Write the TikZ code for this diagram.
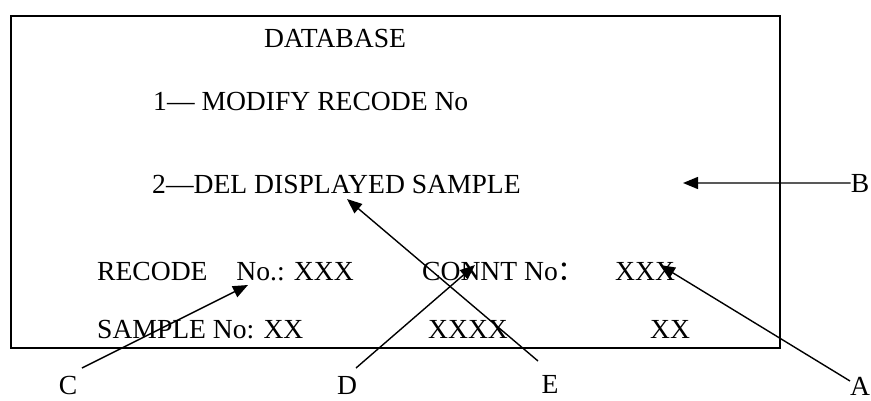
\documentclass[tikz,border=0pt]{standalone}
\usepackage{fontspec}
\setmainfont{Liberation Serif}
\newfontfamily\cjk{Noto Sans CJK SC}
\usetikzlibrary{arrows.meta}

\tikzset{
  screen/.style={draw, line width=1.8pt, anchor=north west, inner sep=0pt},
  txt/.style={anchor=base west, inner sep=0pt, font=\fontsize{27.6}{32}\selectfont},
  lbl/.style={anchor=base, inner sep=0pt, font=\fontsize{27.6}{32}\selectfont},
  ptr/.style={line width=1.4pt, -{Triangle[length=15pt,width=12pt]}}
}

\begin{document}
\begin{tikzpicture}[x=1pt,y=-1pt]
            \useasboundingbox (0,0) rectangle (871,400);
            % Tela do menu
            \node at (10,15) (frame) [screen, minimum width=769pt, minimum height=332pt] {};
            \node at (335,47) (title) [lbl] {DATABASE};
            \node at (153,110) (opt1) [txt] {1— MODIFY RECODE No};
            \node at (152,193) (opt2) [txt] {2—DEL DISPLAYED SAMPLE};
            \node at (97,280) (recno) [txt] {RECODE\hspace{22pt} No.: XXX};
            \node at (422,280) (connt) [txt] {CONNT No{\cjk ：}};
            \node at (615,280) (conntval) [txt] {XXX};
            \node at (97,338) (sampno) [txt] {SAMPLE No: XX};
            \node at (428,338) (sampval) [txt] {XXXX};
            \node at (650,338) (sampsub) [txt] {XX};
            % Rotulos
            \node at (68,394) (lC) [lbl] {C};
            \node at (347,394) (lD) [lbl] {D};
            \node at (550,393) (lE) [lbl] {E};
            \node at (860,395) (lA) [lbl] {A};
            \node at (860,192) (lB) [lbl] {B};
            % Setas
            \coordinate (fromA) at (850,381);
            \coordinate (toA) at (660,265);
            \coordinate (toB) at (683,183);
            \coordinate (fromC) at (82,368);
            \coordinate (toC) at (248,285);
            \coordinate (fromD) at (356,368);
            \coordinate (toD) at (475,265);
            \coordinate (fromE) at (538,361);
            \coordinate (toE) at (347,199);
            \draw[ptr] (fromA) -- (toA);
            \draw[ptr] (lB.west) -- (toB);
            \draw[ptr] (fromC) -- (toC);
            \draw[ptr] (fromD) -- (toD);
            \draw[ptr] (fromE) -- (toE);
        \end{tikzpicture}
\end{document}
